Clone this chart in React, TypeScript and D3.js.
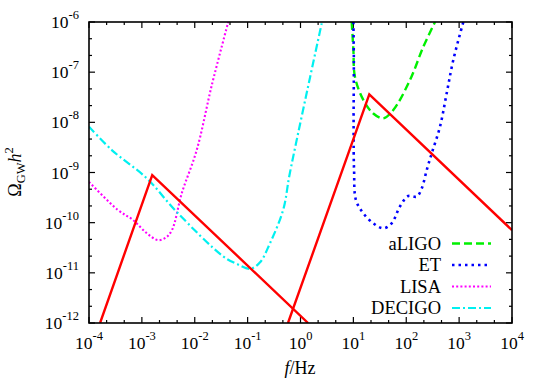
import React from "react";
import * as d3 from "d3";

// frequency decades and Omega decades for the axes
const xExponents = [-4, -3, -2, -1, 0, 1, 2, 3, 4];
const yExponents = [-12, -11, -10, -9, -8, -7, -6];

// detector sensitivity curves (f in Hz, Omega_GW h^2)
const aligoF = [9.3, 10.0, 10.7, 15.4, 23.8, 36.8, 56.9, 118, 210, 350];
const aligoOmega = [1e-6, 2.8e-7, 8.1e-8, 2.8e-8, 1.5e-8, 1.2e-8, 1.76e-8, 7.0e-8, 3.2e-7, 1e-6];

const etF = [10.0, 10.2, 10.1, 10.3, 11.2, 15.4, 23.8, 36.8, 53, 76, 109, 158, 196, 244, 303, 435, 582, 776, 1200];
const etOmega = [1e-6, 1.75e-7, 8.2e-9, 1.12e-9, 2.8e-10, 1.54e-10, 9.7e-11, 7.7e-11, 9.7e-11, 2.1e-10, 3.4e-10, 3.3e-10, 4.8e-10, 1.12e-9, 2.4e-9, 8.2e-9, 3.8e-8, 1.75e-7, 1e-6];

const lisaF = [1e-4, 3.5e-4, 6.8e-4, 1.23e-3, 2.0e-3, 2.8e-3, 3.7e-3, 5.7e-3, 1.09e-2, 2.1e-2, 4.3e-2];
const lisaOmega = [6.5e-10, 1.8e-10, 1.13e-10, 6.2e-11, 4.5e-11, 5.0e-11, 7.1e-11, 3.9e-10, 2.8e-9, 5.5e-8, 1e-6];

const decigoF = [1e-4, 2.7e-4, 1.23e-3, 4.5e-3, 3.5e-2, 6.3e-2, 0.111, 0.17, 0.265, 0.47, 0.63, 2.55];
const decigoOmega = [8.2e-9, 2.8e-9, 7.7e-10, 1.66e-10, 2.1e-11, 1.5e-11, 1.2e-11, 1.6e-11, 3.9e-11, 1.8e-10, 9.8e-10, 1e-6];

// broken power-law signal spectra
const signalAF = [1.62e-4, 1.57e-3, 1.39];
const signalAOmega = [1e-12, 8.9e-10, 1e-12];
const signalBF = [0.58, 20, 1e4];
const signalBOmega = [1e-12, 3.6e-8, 7.1e-11];

const legendNames = ["aLIGO", "ET", "LISA", "DECIGO"];

const W = 545;
const H = 382;
const left = 89, right = 512, top = 22, bottom = 323;
const font = "'Liberation Serif', 'Times New Roman', serif";

const zip = (a: number[], b: number[]) => a.map((v, i) => [v, b[i]] as [number, number]);

export default function App() {
  const x = d3.scaleLog().domain([1e-4, 1e4]).range([left, right]);
  const y = d3.scaleLog().domain([1e-12, 1e-6]).range([bottom, top]);

  const smooth = d3
    .line<[number, number]>()
    .x((d) => x(d[0]))
    .y((d) => y(d[1]))
    .curve(d3.curveCatmullRom.alpha(0.5));
  const straight = d3
    .line<[number, number]>()
    .x((d) => x(d[0]))
    .y((d) => y(d[1]));

  const styles = [
    { color: "#00f000", dash: "8,4", width: 2.4 },
    { color: "#0000ff", dash: "2.5,4", width: 2.6 },
    { color: "#ff00ff", dash: "2,2.2", width: 2.1 },
    { color: "#00f0f0", dash: "8,3,2,3", width: 2.2 },
  ];
  const curves = [
    zip(aligoF, aligoOmega),
    zip(etF, etOmega),
    zip(lisaF, lisaOmega),
    zip(decigoF, decigoOmega),
  ];

  // minor ticks at thirds of each decade (log spaced)
  const xMinor: number[] = [];
  xExponents.slice(0, -1).forEach((e) => {
    xMinor.push(Math.pow(10, e + 1 / 3), Math.pow(10, e + 2 / 3));
  });
  const yMinor: number[] = [];
  yExponents.slice(0, -1).forEach((e) => {
    yMinor.push(Math.pow(10, e + 1 / 3), Math.pow(10, e + 2 / 3));
  });

  const legendY = [243.5, 265, 286.5, 308];

  return (
    <svg
      width={W}
      height={H}
      style={{ position: "absolute", left: 0, top: 0, background: "#fff" }}
      fontFamily={font}
    >
      <defs>
        <clipPath id="plotArea">
          <rect x={left} y={top} width={right - left} height={bottom - top} />
        </clipPath>
      </defs>

      {/* ticks */}
      <g stroke="#000" strokeWidth={1.2}>
        {xExponents.map((e) => (
          <g key={"xt" + e}>
            <line x1={x(10 ** e)} x2={x(10 ** e)} y1={bottom} y2={bottom - 6} />
            <line x1={x(10 ** e)} x2={x(10 ** e)} y1={top} y2={top + 6} />
          </g>
        ))}
        {xMinor.map((v, i) => (
          <g key={"xm" + i}>
            <line x1={x(v)} x2={x(v)} y1={bottom} y2={bottom - 3} />
            <line x1={x(v)} x2={x(v)} y1={top} y2={top + 3} />
          </g>
        ))}
        {yExponents.map((e) => (
          <g key={"yt" + e}>
            <line x1={left} x2={left + 6} y1={y(10 ** e)} y2={y(10 ** e)} />
            <line x1={right} x2={right - 6} y1={y(10 ** e)} y2={y(10 ** e)} />
          </g>
        ))}
        {yMinor.map((v, i) => (
          <g key={"ym" + i}>
            <line x1={left} x2={left + 3} y1={y(v)} y2={y(v)} />
            <line x1={right} x2={right - 3} y1={y(v)} y2={y(v)} />
          </g>
        ))}
      </g>

      {/* curves */}
      <g clipPath="url(#plotArea)" fill="none">
        {curves.map((c, i) => (
          <path
            key={legendNames[i]}
            d={smooth(c) || ""}
            stroke={styles[i].color}
            strokeWidth={styles[i].width}
            strokeDasharray={styles[i].dash}
          />
        ))}
        <path d={straight(zip(signalAF, signalAOmega)) || ""} stroke="#ff0000" strokeWidth={2.4} />
        <path d={straight(zip(signalBF, signalBOmega)) || ""} stroke="#ff0000" strokeWidth={2.4} />
      </g>

      {/* legend */}
      {legendNames.map((name, i) => (
        <g key={"lg" + name}>
          <text x={441} y={legendY[i] + 6} textAnchor="end" fontSize={18.5} fill="#000">
            {name}
          </text>
          <line
            x1={452}
            x2={491}
            y1={legendY[i]}
            y2={legendY[i]}
            stroke={styles[i].color}
            strokeWidth={styles[i].width}
            strokeDasharray={styles[i].dash}
          />
        </g>
      ))}

      {/* frame */}
      <rect
        x={left}
        y={top}
        width={right - left}
        height={bottom - top}
        fill="none"
        stroke="#000"
        strokeWidth={1.6}
      />

      {/* x tick labels */}
      {xExponents.map((e) => (
        <text key={"xl" + e} x={x(10 ** e)} y={349} textAnchor="middle" fontSize={17.5} fill="#000">
          <tspan>10</tspan>
          <tspan dy={-9} fontSize={12.5}>
            {e}
          </tspan>
        </text>
      ))}

      {/* y tick labels */}
      {yExponents.map((e) => (
        <text key={"yl" + e} x={79} y={y(10 ** e) + 6} textAnchor="end" fontSize={17.5} fill="#000">
          <tspan>10</tspan>
          <tspan dy={-9} fontSize={12.5}>
            {e}
          </tspan>
        </text>
      ))}

      {/* axis titles */}
      <text x={300} y={374} textAnchor="middle" fontSize={18} fill="#000">
        <tspan fontStyle="italic">f</tspan>
        <tspan>/Hz</tspan>
      </text>
      <text
        transform="translate(21,172) rotate(-90)"
        textAnchor="middle"
        fontSize={18}
        fill="#000"
      >
        <tspan>Ω</tspan>
        <tspan dy={4} fontSize={12.5}>GW</tspan>
        <tspan dy={-4} fontStyle="italic">h</tspan>
        <tspan dy={-8} fontSize={12.5}>2</tspan>
      </text>
    </svg>
  );
}
